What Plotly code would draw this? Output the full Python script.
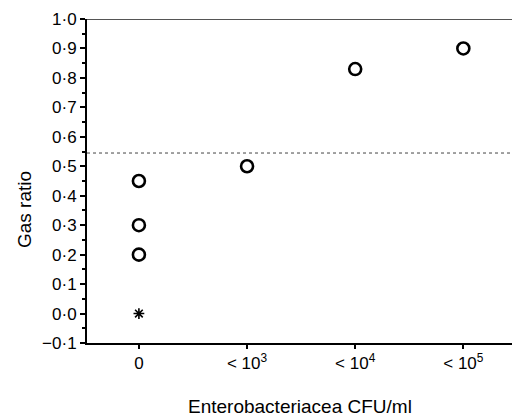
import plotly.graph_objects as go

categories = ["0", "< 10<sup>3</sup>", "< 10<sup>4</sup>", "< 10<sup>5</sup>"]
circle_cat = [0, 0, 0, 1, 2, 3]
circle_val = [0.45, 0.30, 0.20, 0.50, 0.83, 0.90]
star_cat = [0]
star_val = [0.0]
threshold = 0.545
ytick_vals = [-0.1, 0.0, 0.1, 0.2, 0.3, 0.4, 0.5, 0.6, 0.7, 0.8, 0.9, 1.0]
ytick_text = ["\u22120·1", "0·0", "0·1", "0·2", "0·3", "0·4", "0·5", "0·6", "0·7", "0·8", "0·9", "1·0"]

fig = go.Figure()
fig.add_trace(go.Scatter(
    x=circle_cat, y=circle_val, mode="markers",
    marker=dict(symbol="circle-open", size=12, color="black", line=dict(width=2.6, color="black")),
    showlegend=False))
fig.add_trace(go.Scatter(
    x=star_cat, y=star_val, mode="markers",
    marker=dict(symbol="asterisk-open", size=9, color="black", line=dict(width=1.6, color="black")),
    showlegend=False))

fig.add_shape(type="line", xref="paper", x0=0, x1=1, yref="y", y0=threshold, y1=threshold,
              line=dict(color="#444", width=1, dash="dot"))
fig.add_shape(type="line", xref="paper", x0=0, x1=1, yref="y", y0=1.0, y1=1.0,
              line=dict(color="#555", width=2))

fig.add_annotation(text="Enterobacteriacea CFU/ml", xref="paper", yref="paper",
                   x=(300 - 87) / 425, y=-(406 - 343) / 324, showarrow=False,
                   font=dict(size=19, color="black"), xanchor="center", yanchor="middle")
fig.add_annotation(text="Gas ratio", xref="paper", yref="paper",
                   x=(25 - 87) / 425, y=(343 - 210) / 324, showarrow=False, textangle=-90,
                   font=dict(size=19, color="black"), xanchor="center", yanchor="middle")

fig.update_layout(
    width=512, height=416,
    margin=dict(l=87, r=0, t=19, b=73),
    plot_bgcolor="white", paper_bgcolor="white",
    font=dict(family="Liberation Sans", size=17, color="black"),
    xaxis=dict(
        range=[-0.48, 3.45], tickvals=[0, 1, 2, 3], ticktext=categories,
        ticks="outside", ticklen=4, tickwidth=2, tickcolor="black",
        showline=True, linecolor="black", linewidth=2, showgrid=False, zeroline=False,
        tickfont=dict(size=17)),
    yaxis=dict(
        range=[-0.1, 1.0], tickvals=ytick_vals, ticktext=ytick_text,
        ticks="outside", ticklen=5, tickwidth=2, tickcolor="black",
        minor=dict(ticks="outside", dtick=0.05, tick0=0, ticklen=3, tickwidth=1.5, tickcolor="black"),
        showline=True, linecolor="black", linewidth=2, showgrid=False, zeroline=False,
        tickfont=dict(size=17)),
)
fig.write_html("out.html")
